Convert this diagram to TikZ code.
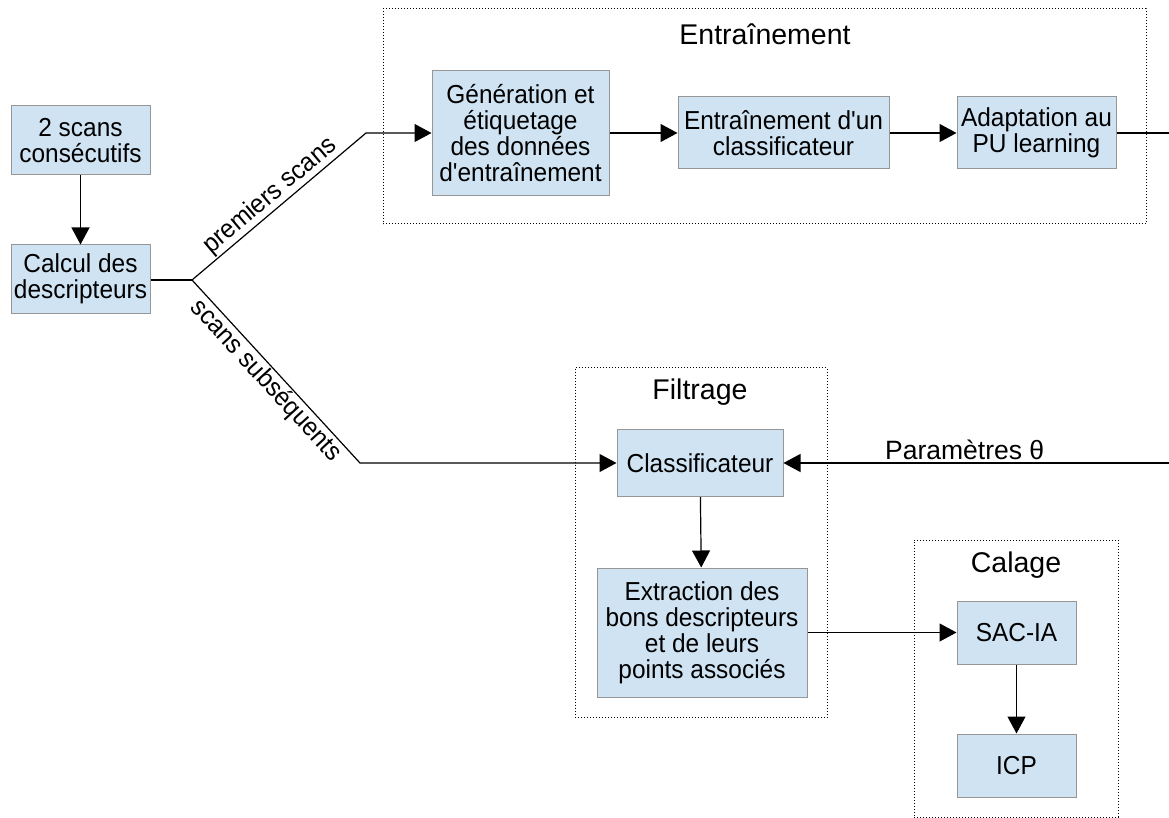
\documentclass[tikz,border=0pt]{standalone}
\usepackage{fontspec}
\setmainfont{Liberation Sans}[Ligatures=TeXOff]
\newfontfamily\boxfont{Liberation Sans}[Ligatures=TeXOff, FakeStretch=0.94]
\usetikzlibrary{arrows.meta}
\definecolor{boxfill}{RGB}{207,227,243}
\definecolor{boxline}{RGB}{150,150,150}
\tikzset{
  x=1pt, y=-1pt,
  box/.style={draw=boxline, line width=1pt, fill=boxfill, align=center, inner sep=0pt,
    font=\boxfont\fontsize{26}{26}\selectfont},
  grp/.style={draw=black, dotted, line width=1pt, inner sep=0pt},
  ttl/.style={font=\fontsize{28.5}{30}\selectfont},
  conn/.style={line width=1.2pt},
  arr/.style={conn, -{Triangle[length=17pt,width=18pt]}},
  lbl/.style={font=\boxfont\fontsize{26}{26}\selectfont},
}
\begin{document}
\begin{tikzpicture}
\useasboundingbox (0,0) rectangle (1169,818);
% groups
\node[grp, minimum width=763, minimum height=215] (gE) at (764.5,116.5) {};
\node[ttl] (tE) at (765,34) {Entraînement};
\node[grp, minimum width=252, minimum height=350] (gF) at (701,542.5) {};
\node[ttl] (tF) at (700,392) {Filtrage};
\node[grp, minimum width=204, minimum height=277] (gC) at (1016,678.5) {};
\node[ttl] (tC) at (1016,565) {Calage};
% boxes
\node[box, minimum width=139, minimum height=69] (b1) at (80.5,140.5) {2 scans\\consécutifs};
\node[box, minimum width=139, minimum height=68] (b2) at (80.5,279) {Calcul des\\descripteurs};
\node[box, minimum width=177, minimum height=125] (gen) at (520.5,133) {Génération et\\étiquetage\\des données\\d'entraînement};
\node[box, minimum width=211, minimum height=72] (ent) at (783.5,133) {Entraînement d'un\\classificateur};
\node[box, minimum width=159, minimum height=72] (adap) at (1036.5,133) {Adaptation au\\PU learning};
\node[box, minimum width=166, minimum height=67] (cls) at (700,463) {Classificateur};
\node[box, minimum width=210, minimum height=129] (ext) at (702,632.5) {Extraction des\\bons descripteurs\\et de leurs\\points associés};
\node[box, minimum width=119, minimum height=63] (sac) at (1016.5,632.5) {SAC-IA};
\node[box, minimum width=119, minimum height=63] (icp) at (1016.5,765.5) {ICP};
% coordinates
\coordinate (j) at (192,280);
\coordinate (k1) at (366,133);
\coordinate (k2) at (360,463);
\coordinate (e1) at (1169,133);
\coordinate (e2) at (1169,463);
% connectors
\draw[arr] (b1) -- (b2);
\draw[conn] (b2.east |- j) -- (j);
\draw[arr] (j) -- node[lbl, sloped, above, inner sep=1pt] {premiers scans} (k1) -- (gen);
\draw[arr] (j) -- node[lbl, sloped, below, inner sep=1pt] {scans subséquents} (k2) -- (cls);
\draw[arr] (gen) -- (ent);
\draw[arr] (ent) -- (adap);
\draw[conn] (adap) -- (e1);
\draw[arr] (e2) -- node[font=\fontsize{26.5}{28}\selectfont, above, pos=0.53, inner sep=3pt] {Paramètres θ} (cls);
\draw[arr] (cls) -- (ext);
\draw[arr] (ext.east |- sac) -- (sac);
\draw[arr] (sac) -- (icp);
\end{tikzpicture}
\end{document}
